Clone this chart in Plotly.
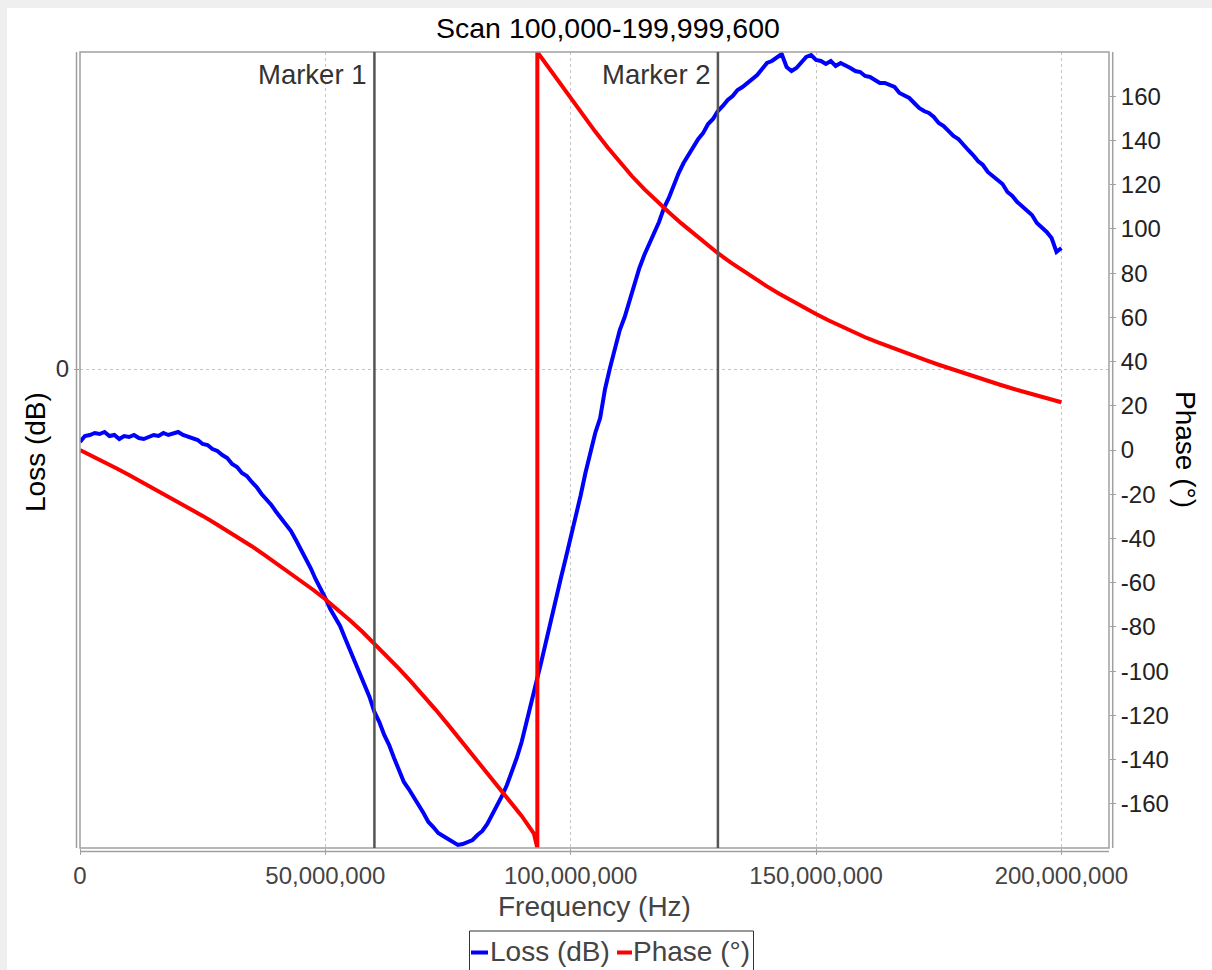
import plotly.graph_objects as go

# ---- data -------------------------------------------------------------
# Loss sweep, 1 MHz spacing from 0 to 200 MHz
freq_loss_mhz = list(range(0, 201))
loss_db = [
    -0.73, -0.67, -0.66, -0.64, -0.65, -0.63, -0.67, -0.66, -0.70, -0.67,   # 0-9
    -0.68, -0.66, -0.69, -0.70, -0.68, -0.66, -0.67, -0.64, -0.66, -0.65,   # 10-19
    -0.63, -0.66, -0.68, -0.70, -0.71, -0.75, -0.76, -0.80, -0.82, -0.86,   # 20-29
    -0.89, -0.95, -0.98, -1.04, -1.07, -1.13, -1.18, -1.25, -1.30, -1.36,   # 30-39
    -1.43, -1.49, -1.56, -1.62, -1.71, -1.80, -1.90, -1.99, -2.10, -2.19,   # 40-49
    -2.29, -2.40, -2.49, -2.57, -2.69, -2.81, -2.91, -3.05, -3.17, -3.28,   # 50-59
    -3.43, -3.53, -3.66, -3.76, -3.89, -4.01, -4.13, -4.20, -4.29, -4.36,   # 60-69
    -4.44, -4.53, -4.58, -4.64, -4.67, -4.70, -4.74, -4.76, -4.75, -4.73,   # 70-79
    -4.71, -4.66, -4.62, -4.55, -4.46, -4.38, -4.27, -4.16, -4.03, -3.89,   # 80-89
    -3.73, -3.54, -3.33, -3.13, -2.93, -2.71, -2.51, -2.31, -2.09, -1.89,   # 90-99
    -1.69, -1.47, -1.27, -1.04, -0.83, -0.64, -0.49, -0.20, 0.01, 0.21,     # 100-109
    0.39, 0.52, 0.69, 0.86, 1.01, 1.14, 1.26, 1.36, 1.47, 1.61,             # 110-119
    1.71, 1.85, 1.96, 2.06, 2.14, 2.21, 2.30, 2.36, 2.45, 2.50,             # 120-129
    2.58, 2.63, 2.69, 2.73, 2.79, 2.82, 2.86, 2.91, 2.94, 3.00,             # 130-139
    3.06, 3.08, 3.12, 3.15, 3.02, 2.98, 3.01, 3.06, 3.12, 3.14,             # 140-149
    3.09, 3.08, 3.05, 3.08, 3.03, 3.06, 3.04, 3.01, 2.98, 2.97,             # 150-159
    2.93, 2.92, 2.89, 2.86, 2.86, 2.84, 2.82, 2.76, 2.74, 2.71,             # 160-169
    2.66, 2.61, 2.58, 2.56, 2.52, 2.46, 2.43, 2.38, 2.33, 2.30,             # 170-179
    2.24, 2.19, 2.14, 2.08, 2.04, 1.97, 1.93, 1.89, 1.85, 1.77,             # 180-189
    1.73, 1.67, 1.63, 1.59, 1.54, 1.46, 1.42, 1.37, 1.31, 1.17,             # 190-199
    1.21,                                                                   # 200
]

# Phase sweep (wraps from -180 to +180 near 93.2 MHz)
freq_phase_mhz = [0, 2.5, 5, 7.5, 10, 12.5, 15, 17.5, 20, 22.5, 25, 27.5, 30, 32.5, 35, 37.5,
                  40, 42.5, 45, 47.5, 50, 52.5, 55, 57.5, 60, 62.5, 65, 67.5, 70, 72.5, 75,
                  77.5, 80, 82.5, 85, 87.5, 90, 92.5, 93.2,
                  93.2, 95, 97.5, 100, 102.5, 105, 107.5, 110, 112.5, 115, 117.5, 120, 122.5,
                  125, 127.5, 130, 132.5, 135, 137.5, 140, 142.5, 145, 147.5, 150, 152.5, 155,
                  157.5, 160, 162.5, 165, 167.5, 170, 172.5, 175, 177.5, 180, 182.5, 185,
                  187.5, 190, 192.5, 195, 197.5, 200]
phase_deg = [0, -2.7, -5.5, -8.4, -11.3, -14.3, -17.4, -20.6, -23.6, -26.6, -29.8, -33.1,
             -36.4, -39.9, -43.5, -47.3, -51.2, -55.1, -59.1, -63.2, -67.5, -72.1, -77.0,
             -82.1, -87.5, -93.1, -98.9, -104.9, -111.0, -117.5, -124.2, -131.1, -138.0,
             -144.9, -151.8, -158.6, -165.5, -173.5, -180,
             180, 174.5, 166.7, 159.0, 151.4, 144.0, 136.9, 130.0, 123.8, 118.0, 112.6, 107.5,
             102.6, 97.9, 93.4, 89.0, 85.0, 81.2, 77.5, 74.0, 70.7, 67.5, 64.45, 61.5, 58.7,
             56.0, 53.45, 51.0, 48.75, 46.6, 44.5, 42.5, 40.5, 38.55, 36.65, 34.8, 33.0, 31.25,
             29.5, 27.8, 26.2, 24.65, 23.1, 21.6]

marker_freqs_mhz = [60, 130]
marker_labels = ["Marker 1", "Marker 2"]

x_ticks_hz = [0, 50_000_000, 100_000_000, 150_000_000, 200_000_000]
x_tick_text = ["0", "50,000,000", "100,000,000", "150,000,000", "200,000,000"]
phase_ticks = [-160, -140, -120, -100, -80, -60, -40, -20, 0, 20, 40, 60, 80, 100, 120, 140, 160]
phase_tick_text = [str(v) for v in phase_ticks]   # plain hyphen minus signs

title_text = "Scan 100,000-199,999,600"

# ---- layout geometry ---------------------------------------------------
W, H = 1212, 970
L, R, T, B = 80, 103, 52, 122
PW, PH = W - L - R, H - T - B
FONT = "Liberation Sans, Arial, sans-serif"
AXIS_GRAY = "#a0a0a0"


def px(x):
    return (x - L) / PW


def py(y):
    return (H - B - y) / PH


freq_loss_hz = [f * 1e6 for f in freq_loss_mhz]
freq_phase_hz = [f * 1e6 for f in freq_phase_mhz]

fig = go.Figure()
fig.add_trace(go.Scatter(x=freq_loss_hz, y=loss_db, name="Loss (dB)", mode="lines",
                         line=dict(color="#0000ff", width=4), yaxis="y", showlegend=False))
fig.add_trace(go.Scatter(x=freq_phase_hz, y=phase_deg, name="Phase (°)", mode="lines",
                         line=dict(color="#ff0000", width=4), yaxis="y2", showlegend=False))

shapes = [
    # white panel on grey page
    dict(type="rect", xref="paper", yref="paper", x0=px(7), x1=px(W + 20), y0=py(8), y1=py(H + 20),
         fillcolor="white", line=dict(width=0), layer="below"),
    # plot frame
    dict(type="rect", xref="paper", yref="paper", x0=0, x1=1, y0=0, y1=1,
         line=dict(color=AXIS_GRAY, width=1.5), layer="above"),
    # offset axis lines
    dict(type="line", xref="paper", yref="paper", x0=px(76.5), x1=px(76.5), y0=0, y1=1,
         line=dict(color=AXIS_GRAY, width=1.5)),
    dict(type="line", xref="paper", yref="paper", x0=0, x1=1, y0=py(851.5), y1=py(851.5),
         line=dict(color=AXIS_GRAY, width=1.5)),
    dict(type="line", xref="paper", yref="paper", x0=px(1112.7), x1=px(1112.7), y0=0, y1=1,
         line=dict(color=AXIS_GRAY, width=1.5)),
]

annotations = [
    dict(text=title_text, xref="paper", yref="paper", x=px(607.7), y=py(27.5),
         xanchor="center", yanchor="middle", showarrow=False,
         font=dict(family=FONT, size=28.5, color="#000000")),
    dict(text="Frequency (Hz)", xref="paper", yref="paper", x=px(594), y=py(906.7),
         xanchor="center", yanchor="middle", showarrow=False,
         font=dict(family=FONT, size=28, color="#444444")),
    dict(text="Loss (dB)", xref="paper", yref="paper", x=px(36), y=py(452),
         xanchor="center", yanchor="middle", showarrow=False, textangle=-90,
         font=dict(family=FONT, size=28, color="#000000")),
    dict(text="Phase (°)", xref="paper", yref="paper", x=px(1186), y=py(449),
         xanchor="center", yanchor="middle", showarrow=False, textangle=90,
         font=dict(family=FONT, size=28, color="#000000")),
]

# marker lines and their labels
for f, lab in zip(marker_freqs_mhz, marker_labels):
    shapes.append(dict(type="line", xref="x", yref="paper", x0=f * 1e6, x1=f * 1e6, y0=0, y1=1,
                       line=dict(color="#555555", width=2.5), layer="above"))
    annotations.append(dict(text=lab, xref="x", yref="paper", x=f * 1e6, y=py(74.5),
                            xanchor="right", yanchor="middle", xshift=-5, showarrow=False,
                            font=dict(family=FONT, size=27.5, color="#333333")))

# legend box below the axis title
shapes.append(dict(type="rect", xref="paper", yref="paper", x0=px(469.5), x1=px(753.5),
                   y0=py(990), y1=py(931), line=dict(color="#333333", width=1),
                   fillcolor="white"))
shapes.append(dict(type="line", xref="paper", yref="paper", x0=px(471), x1=px(488),
                   y0=py(952.5), y1=py(952.5), line=dict(color="#0000ff", width=4)))
shapes.append(dict(type="line", xref="paper", yref="paper", x0=px(617), x1=px(632),
                   y0=py(952.5), y1=py(952.5), line=dict(color="#ff0000", width=4)))
annotations.append(dict(text="Loss (dB)", xref="paper", yref="paper", x=px(488), y=py(951.7),
                        xanchor="left", yanchor="middle", showarrow=False,
                        font=dict(family=FONT, size=28, color="#444444")))
annotations.append(dict(text="Phase (°)", xref="paper", yref="paper", x=px(631), y=py(951.7),
                        xanchor="left", yanchor="middle", showarrow=False,
                        font=dict(family=FONT, size=28, color="#444444")))

fig.update_layout(
    width=W, height=H,
    margin=dict(l=L, r=R, t=T, b=B, pad=0),
    paper_bgcolor="#efefef",
    plot_bgcolor="white",
    showlegend=False,
    shapes=shapes,
    annotations=annotations,
    xaxis=dict(
        range=[0, 2.097e8], tickvals=x_ticks_hz, ticktext=x_tick_text,
        showgrid=True, gridcolor="#c4c4c4", griddash="dot", gridwidth=1,
        zeroline=False, showline=False,
        ticks="outside", ticklen=6, tickcolor=AXIS_GRAY,
        tickfont=dict(family=FONT, size=24, color="#444444"),
    ),
    yaxis=dict(
        range=[-4.79, 3.17], tickvals=[0], ticktext=["0"],
        showgrid=True, gridcolor="#c4c4c4", griddash="dot", gridwidth=1,
        zeroline=False, showline=False,
        ticks="outside", ticklen=5, tickcolor=AXIS_GRAY,
        tickfont=dict(family=FONT, size=24, color="#333333"),
    ),
    yaxis2=dict(
        range=[-180, 180], tickvals=phase_ticks, ticktext=phase_tick_text,
        overlaying="y", side="right",
        showgrid=False, zeroline=False, showline=False,
        ticks="outside", ticklen=6, tickcolor=AXIS_GRAY,
        tickfont=dict(family=FONT, size=24, color="#222222"),
    ),
)

fig.write_html("out.html")
